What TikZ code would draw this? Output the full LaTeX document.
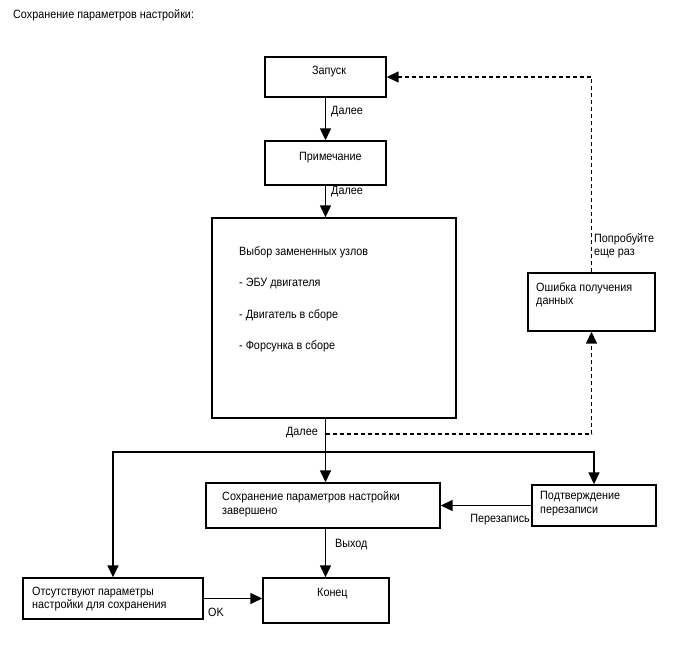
\documentclass[tikz,border=0pt]{standalone}
\usepackage{fontspec}
\setmainfont{Liberation Sans}[FakeStretch=0.9]
\usetikzlibrary{arrows.meta,positioning}

\tikzset{
    box/.style={draw, line width=1.4pt, inner sep=0pt},
    txt/.style={anchor=north west, inner sep=0pt, align=left, font=\fontsize{12}{13.5}\selectfont, execute at begin node=\strut},
    flow/.style={line width=1.5pt, -{Triangle[length=12pt,width=11pt]}},
    retry/.style={flow, dashed, dash pattern=on 4pt off 3pt}
}

\begin{document}
\begin{tikzpicture}[x=1pt,y=-1pt]
    \useasboundingbox (0,0) rectangle (688,658);

    % Title
    \node[txt] (title) at (13,9) {Сохранение параметров настройки:};

    % Draw the boxes
    \node[box, minimum width=121pt, minimum height=40pt] (zapusk) at (325.5,77) {};
    \node[box, minimum width=121pt, minimum height=44pt] (primech) at (325.5,163) {};
    \node[box, minimum width=244pt, minimum height=200pt] (vybor) at (334,318) {};
    \node[box, minimum width=127pt, minimum height=58pt] (oshibka) at (591.5,302) {};
    \node[box, minimum width=234pt, minimum height=45pt] (sokhr) at (323,505.5) {};
    \node[box, minimum width=124pt, minimum height=41pt] (podtv) at (594,505.5) {};
    \node[box, minimum width=180pt, minimum height=41pt] (otsut) at (113,598.5) {};
    \node[box, minimum width=126pt, minimum height=45pt] (konets) at (326,600.5) {};

    % Texts in the boxes
    \node[txt] (t-zapusk) at (312,64.5) {Запуск};
    \node[txt] (t-primech) at (299,150.5) {Примечание};
    \node[txt] (t-vybor) at (239,246.5) {Выбор замененных узлов\\[17.8pt]- ЭБУ двигателя\\[17.8pt]- Двигатель в сборе\\[17.8pt]- Форсунка в сборе};
    \node[txt] (t-oshibka) at (536,282) {Ошибка получения\\данных};
    \node[txt] (t-sokhr) at (222,491.5) {Сохранение параметров настройки\\завершено};
    \node[txt] (t-podtv) at (540,491.5) {Подтверждение\\перезаписи};
    \node[txt] (t-otsut) at (32,586.5) {Отсутствуют параметры\\настройки для сохранения};
    \node[txt] (t-konets) at (317,586.5) {Конец};

    % Main flow
    \coordinate (split) at (325.5,452);
    \coordinate (fail) at (325.5,434);
    \draw[flow] (zapusk.south) -- (primech.north);
    \draw[flow] (primech.south) -- (primech.south |- vybor.north);
    \draw[flow] (vybor.south -| split) -- (sokhr.north -| split);
    \draw[flow] (split) -| (otsut.north);
    \draw[flow] (split) -| (podtv.north);
    \draw[flow] (podtv.west) -- (podtv.west -| sokhr.east);
    \draw[flow] (sokhr.south -| split) -- (konets.north -| split);
    \draw[flow] (otsut.east) -- (otsut.east -| konets.west);

    % Error loop (dashed)
    \draw[retry] (fail) -| (oshibka.south);
    \draw[retry] (oshibka.north) |- (zapusk.east);

    % Connector labels
    \node[txt] (l-dalee1) at (331,104.5) {Далее};
    \node[txt] (l-dalee2) at (331,185) {Далее};
    \node[txt, anchor=north east] (l-dalee3) at (318,425.5) {Далее};
    \node[txt] (l-retry) at (594,233) {Попробуйте\\еще раз};
    \node[txt, anchor=north east] (l-perezap) at (530,512.5) {Перезапись};
    \node[txt] (l-vykhod) at (335,537.5) {Выход};
    \node[txt] (l-ok) at (208,606.5) {OK};
\end{tikzpicture}
\end{document}
